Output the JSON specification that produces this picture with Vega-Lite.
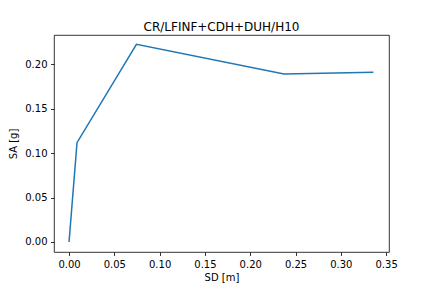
{
  "$schema": "https://vega.github.io/schema/vega-lite/v6.json",
  "autosize": {"type": "none"},
  "padding": {"left": 54, "top": 35, "right": 43, "bottom": 36},
  "width": 335,
  "height": 217,
  "background": "white",
  "title": {"text": "CR/LFINF+CDH+DUH/H10", "font": "DejaVu Sans", "fontSize": 12, "fontWeight": "normal", "color": "black", "offset": 6, "dy": 5},
  "config": {
    "view": {"stroke": "black", "strokeWidth": 0.8},
    "axis": {"grid": false, "domain": false, "tickColor": "black", "tickWidth": 0.8, "tickSize": 3.5, "labelFont": "DejaVu Sans", "labelFontSize": 10, "labelColor": "black", "titleFont": "DejaVu Sans", "titleFontSize": 10, "titleFontWeight": "normal", "titleColor": "black", "labelPadding": 3.5}
  },
  "data": {"values": [
    {"sd": 0.0, "sa": 0.0},
    {"sd": 0.0088, "sa": 0.1118},
    {"sd": 0.0744, "sa": 0.2226},
    {"sd": 0.2373, "sa": 0.189},
    {"sd": 0.336, "sa": 0.191}
  ]},
  "mark": {"type": "line", "color": "#1f77b4", "strokeWidth": 1.5, "clip": true},
  "encoding": {
    "x": {"field": "sd", "type": "quantitative", "title": "SD [m]", "scale": {"domain": [-0.0166, 0.3532], "nice": false, "zero": false},
      "axis": {"values": [0, 0.05, 0.1, 0.15, 0.2, 0.25, 0.3, 0.35], "format": ".2f", "titlePadding": 3}},
    "y": {"field": "sa", "type": "quantitative", "title": "SA [g]", "scale": {"domain": [-0.0113, 0.233], "nice": false, "zero": false},
      "axis": {"values": [0, 0.05, 0.1, 0.15, 0.2], "format": ".2f", "titlePadding": 6}}
  }
}
